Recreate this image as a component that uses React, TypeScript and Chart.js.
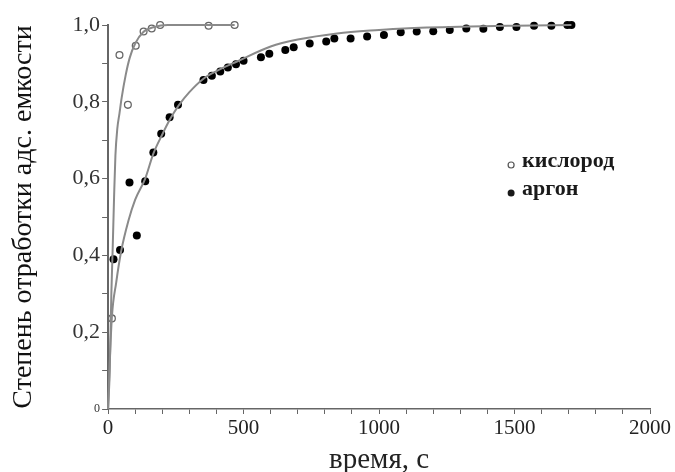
import React, { useEffect, useRef } from "react";
import { Chart, registerables } from "chart.js";

Chart.register(...registerables);

// Oxygen (open circles)
const oxygenT = [14, 42, 73, 102, 131, 161, 192, 371, 467];
const oxygenY = [0.236, 0.922, 0.792, 0.946, 0.983, 0.991, 1.0, 0.998, 1.0];

// Argon (filled dots)
const argonT = [20, 44, 79, 106, 137, 167, 196, 227, 258, 352, 383, 414, 442, 472, 500, 564, 595, 654, 685, 744, 805, 835, 895, 956, 1018, 1080, 1139, 1200, 1261, 1322, 1385, 1446, 1507, 1572, 1636, 1695, 1710];
const argonY = [0.39, 0.414, 0.59, 0.452, 0.593, 0.668, 0.717, 0.76, 0.792, 0.857, 0.868, 0.879, 0.889, 0.898, 0.907, 0.916, 0.925, 0.935, 0.942, 0.952, 0.957, 0.965, 0.965, 0.97, 0.974, 0.981, 0.983, 0.984, 0.987, 0.991, 0.99, 0.995, 0.995, 0.998, 0.998, 1.0, 1.0];

// Fitted curves
const oxyFitT = [0, 6, 12, 17, 22, 27, 34, 42, 50, 65, 80, 100, 130, 170, 220, 300, 467];
const oxyFitY = [0, 0.1, 0.3, 0.42, 0.55, 0.66, 0.73, 0.77, 0.81, 0.87, 0.915, 0.952, 0.982, 0.995, 1.0, 1.0, 1.0];

const argonFitT = [0, 6, 14, 30, 48, 75, 100, 137, 167, 200, 229, 260, 300, 352, 400, 476, 600, 700, 845, 1000, 1091, 1338, 1500, 1710];
const argonFitY = [0, 0.12, 0.24, 0.33, 0.41, 0.49, 0.545, 0.6, 0.665, 0.715, 0.755, 0.79, 0.825, 0.86, 0.88, 0.905, 0.944, 0.962, 0.978, 0.987, 0.991, 0.996, 0.998, 1.0];

const legendLabels = ["кислород", "аргон"];
const xTitle = "время, с";
const yTitle = "Степень отработки адс. емкости";

const FONT = "'Liberation Serif', 'Times New Roman', serif";

const zip = (xs: number[], ys: number[]) => xs.map((x, i) => ({ x, y: ys[i] }));

const legendPlugin = {
  id: "insideLegend",
  afterDraw(chart: any) {
    const { ctx, chartArea } = chart;
    const mx = chartArea.left + 403;
    const tx = chartArea.left + 414;
    const y1 = chartArea.top + 142;
    const y2 = chartArea.top + 170;
    ctx.save();
    ctx.font = `bold 22px ${FONT}`;
    ctx.textBaseline = "alphabetic";
    // open circle
    ctx.beginPath();
    ctx.arc(mx, y1 - 2, 3, 0, Math.PI * 2);
    ctx.fillStyle = "#fff";
    ctx.fill();
    ctx.lineWidth = 1.2;
    ctx.strokeStyle = "#555";
    ctx.stroke();
    ctx.fillStyle = "#1a1a1a";
    ctx.fillText(legendLabels[0], tx, y1);
    // filled dot
    ctx.beginPath();
    ctx.arc(mx, y2 - 2, 3.5, 0, Math.PI * 2);
    ctx.fill();
    ctx.fillText(legendLabels[1], tx, y2);
    ctx.restore();
  },
};

export default function App() {
  const ref = useRef<HTMLCanvasElement>(null);
  useEffect(() => {
    document.body.style.margin = "0";
    const chart = new Chart(ref.current as HTMLCanvasElement, {
      type: "scatter",
      data: {
        datasets: [
          {
            label: "oxyFit",
            data: zip(oxyFitT, oxyFitY),
            showLine: true,
            borderColor: "#8a8a8a",
            borderWidth: 2,
            pointRadius: 0,
            cubicInterpolationMode: "monotone",
            clip: false,
          } as any,
          {
            label: "argonFit",
            data: zip(argonFitT, argonFitY),
            showLine: true,
            borderColor: "#8a8a8a",
            borderWidth: 2,
            pointRadius: 0,
            cubicInterpolationMode: "monotone",
            clip: false,
          } as any,
          {
            label: legendLabels[0],
            data: zip(oxygenT, oxygenY),
            pointRadius: 3.4,
            pointBackgroundColor: "#fff",
            pointBorderColor: "#666",
            pointBorderWidth: 1.3,
            clip: false,
          } as any,
          {
            label: legendLabels[1],
            data: zip(argonT, argonY),
            pointRadius: 4,
            pointBackgroundColor: "#000",
            pointBorderColor: "#000",
            pointBorderWidth: 0,
            clip: false,
          } as any,
        ],
      },
      options: {
        animation: false,
        responsive: false,
        maintainAspectRatio: false,
        layout: { padding: { top: 25, right: 25, bottom: 0, left: 7 } },
        plugins: { legend: { display: false }, tooltip: { enabled: false } },
        scales: {
          x: {
            type: "linear",
            min: 0,
            max: 2000,
            border: { color: "#666", width: 1.5 },
            grid: { drawOnChartArea: false, drawTicks: true, tickLength: 5, color: "#666" },
            ticks: {
              stepSize: 100,
              autoSkip: false,
              maxRotation: 0,
              color: "#222",
              font: { family: FONT, size: 21 },
              padding: 2,
              callback: (v: any) => (Number(v) % 500 === 0 ? String(v) : ""),
            },
            title: {
              display: true,
              text: xTitle,
              color: "#222",
              font: { family: FONT, size: 29 },
              padding: { top: 0, bottom: -6 },
            },
          },
          y: {
            type: "linear",
            min: 0,
            max: 1,
            border: { color: "#666", width: 2 },
            grid: { drawOnChartArea: false, drawTicks: true, tickLength: 6, color: "#666" },
            ticks: {
              stepSize: 0.1,
              autoSkip: false,
              color: "#333",
              padding: 2,
              font: (c: any) =>
                c.tick && Math.abs(c.tick.value) < 1e-9
                  ? { family: FONT, size: 12 }
                  : { family: FONT, size: 22 },
              callback: (v: any) => {
                const n = Math.round(Number(v) * 10);
                if (n === 0) return "0";
                if (n % 2 !== 0) return "";
                return (n / 10).toFixed(1).replace(".", ",");
              },
            },
            title: {
              display: true,
              text: yTitle,
              color: "#111",
              font: { family: FONT, size: 28 },
              padding: { top: 0, bottom: 30 },
            },
          },
        },
      },
      plugins: [legendPlugin],
    });
    return () => chart.destroy();
  }, []);
  return (
    <div style={{ width: 675, height: 472 }}>
      <canvas ref={ref} width={675} height={472} style={{ width: 675, height: 472 }} />
    </div>
  );
}
